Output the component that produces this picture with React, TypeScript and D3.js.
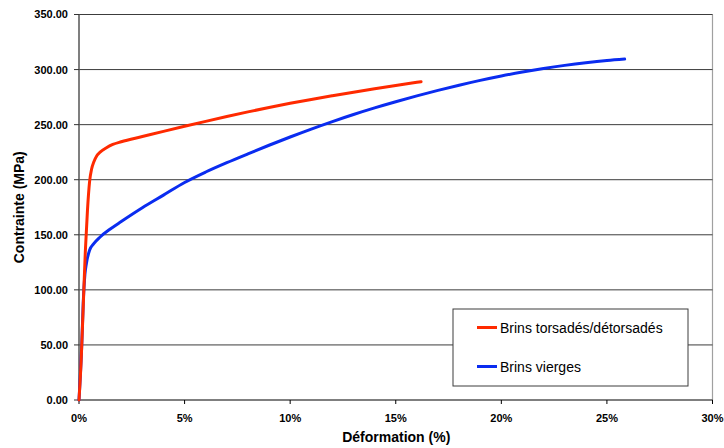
import React from "react";
import * as d3 from "d3";

const W = 724;
const H = 448;

const yTicks = [0, 50, 100, 150, 200, 250, 300, 350];
const xTicks = [0, 5, 10, 15, 20, 25, 30];

const seriesNames = ["Brins torsadés/détorsadés", "Brins vierges"];
const seriesColors = ["#ff2a00", "#0a2cf0"];

// Brins torsadés/détorsadés : strain (%) and stress (MPa)
const redStrain = [0, 0.1, 0.2, 0.3, 0.4, 0.5, 0.6, 0.7, 0.85, 1.0, 1.3, 1.6, 2.0, 3.0, 4.0, 5.0, 6.0, 7.0, 8.0, 9.0, 10.0, 11.0, 12.0, 13.0, 14.0, 15.0, 16.0, 16.2];
const redStress = [0, 35, 85, 135, 172, 198, 210, 216, 222, 225, 229, 232, 234.5, 239.2, 243.9, 248.5, 253, 257.4, 261.6, 265.6, 269.4, 272.9, 276.2, 279.4, 282.5, 285.5, 288.4, 289];

// Brins vierges
const blueStrain = [0, 0.13, 0.2, 0.28, 0.35, 0.5, 0.7, 1.0, 1.5, 2.0, 3.0, 4.0, 5.0, 6.0, 7.0, 8.0, 9.0, 10.0, 11.0, 12.0, 13.0, 14.0, 15.0, 16.0, 17.0, 18.0, 19.0, 20.0, 21.0, 22.0, 23.0, 24.0, 25.0, 25.84];
const blueStress = [0, 50, 88, 114, 124, 136, 142, 148, 155.5, 162, 174.5, 186, 197.5, 207, 215.5, 223.5, 231.3, 238.8, 246, 252.8, 259.2, 265.2, 270.8, 276.1, 281.1, 285.8, 290.2, 294.2, 297.8, 301, 303.8, 306.2, 308.2, 309.5];

export default function App() {
  const left = 79, right = 712.5, top = 14.5, bottom = 400;
  const x = d3.scaleLinear().domain([0, 30]).range([left, right]);
  const y = d3.scaleLinear().domain([0, 350]).range([bottom, top]);

  const line = d3
    .line<[number, number]>()
    .x((d) => x(d[0]))
    .y((d) => y(d[1]))
    .curve(d3.curveMonotoneX);

  const red: [number, number][] = redStrain.map((v, i) => [v, redStress[i]]);
  const blue: [number, number][] = blueStrain.map((v, i) => [v, blueStress[i]]);

  const font = "Arial, 'Liberation Sans', Helvetica, sans-serif";

  return (
    <svg width={W} height={H} style={{ position: "absolute", left: 0, top: 0, background: "#fff" }} fontFamily={font}>
      <rect x={0} y={0} width={W} height={H} fill="#fff" />
      {/* plot border */}
      <line x1={left} x2={right} y1={top} y2={top} stroke="#8a8a8a" strokeWidth={1} />
      <line x1={right} x2={right} y1={top} y2={bottom} stroke="#a0a0a0" strokeWidth={1.2} />
      {/* gridlines */}
      {yTicks.filter((t) => t > 0).map((t) => (
        <line key={"g" + t} x1={left} x2={right} y1={y(t)} y2={y(t)} stroke="#3c3c3c" strokeWidth={1} />
      ))}
      {/* y axis */}
      <line x1={left} x2={left} y1={top} y2={bottom} stroke="#555" strokeWidth={1.5} />
      {yTicks.map((t) => (
        <g key={"y" + t}>
          <line x1={left - 5} x2={left} y1={y(t)} y2={y(t)} stroke="#333" strokeWidth={1} />
          <text x={left - 11} y={y(t)} dy="0.36em" textAnchor="end" fontSize={11} fontWeight="bold" fill="#000">
            {t.toFixed(2)}
          </text>
        </g>
      ))}
      {/* x axis */}
      <line x1={left} x2={right} y1={bottom} y2={bottom} stroke="#000" strokeWidth={1.2} />
      {xTicks.map((t) => (
        <g key={"x" + t}>
          <line x1={x(t)} x2={x(t)} y1={bottom} y2={bottom + 4} stroke="#000" strokeWidth={1} />
          <text x={x(t)} y={bottom + 22} textAnchor="middle" fontSize={11} fontWeight="bold" fill="#000">
            {t + "%"}
          </text>
        </g>
      ))}
      {/* curves */}
      <path d={line(blue) || ""} fill="none" stroke={seriesColors[1]} strokeWidth={3} strokeLinejoin="round" strokeLinecap="round" />
      <path d={line(red) || ""} fill="none" stroke={seriesColors[0]} strokeWidth={3} strokeLinejoin="round" strokeLinecap="round" />
      {/* axis titles */}
      <text x={(left + right) / 2 + 0.5} y={442} textAnchor="middle" fontSize={14} fontWeight="bold" fill="#000">
        Déformation (%)
      </text>
      <text transform={`translate(24, ${(top + bottom) / 2}) rotate(-90)`} textAnchor="middle" fontSize={14} fontWeight="bold" fill="#000">
        Contrainte (MPa)
      </text>
      {/* legend */}
      <rect x={453} y={309} width={235} height={77} fill="#fff" stroke="#3c3c3c" strokeWidth={1} />
      {seriesNames.map((n, i) => (
        <g key={n}>
          <line x1={477} x2={497} y1={327.5 + i * 39} y2={327.5 + i * 39} stroke={seriesColors[i]} strokeWidth={3} />
          <text x={500} y={327.5 + i * 39} dy="0.36em" fontSize={14} fill="#000">
            {n}
          </text>
        </g>
      ))}
    </svg>
  );
}
